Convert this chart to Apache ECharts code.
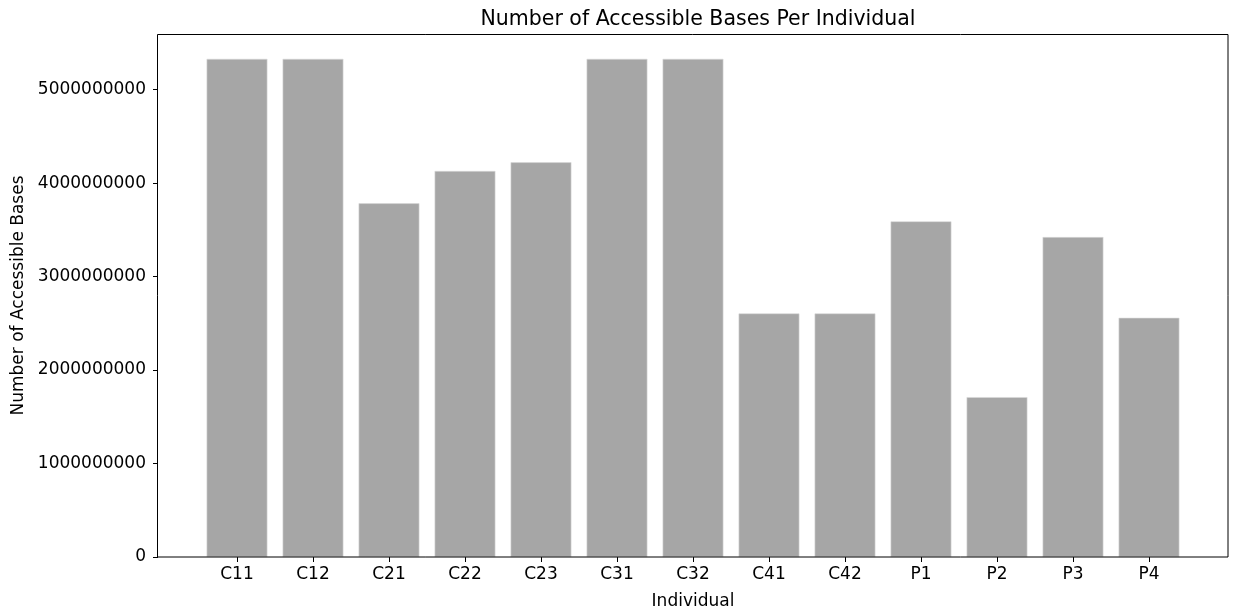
<!DOCTYPE html>
<html>
<head>
<meta charset="utf-8">
<script src="https://cdn.jsdelivr.net/npm/echarts@6/dist/echarts.min.js"></script>
<style>html,body{margin:0;padding:0;background:#fff;}#c{width:1233px;height:613px;}</style>
</head>
<body>
<div id="c"></div>
<script>
const categories = ['C11','C12','C21','C22','C23','C31','C32','C41','C42','P1','P2','P3','P4'];
const values = [5329000000, 5329000000, 3784000000, 4130000000, 4223000000, 5329000000, 5329000000, 2606000000, 2606000000, 3591000000, 1710000000, 3423000000, 2559000000];
const yTicks = [0, 1000000000, 2000000000, 3000000000, 4000000000, 5000000000];

const FONT = 'DejaVu Sans';
const chart = echarts.init(document.getElementById('c'), null, {renderer: 'canvas'});
const yMax = Math.max(...values) * 1.05;

chart.setOption({
  animation: false,
  backgroundColor: '#fff',
  title: {
    text: 'Number of Accessible Bases Per Individual',
    left: 693, top: 4, textAlign: 'center',
    textStyle: {fontFamily: FONT, fontSize: 20.5, fontWeight: 'normal', color: '#000'}
  },
  grid: {left: 199, right: 46, top: 34, bottom: 56, containLabel: false, outerBoundsMode: 'none'},
  xAxis: {
    type: 'category',
    data: categories,
    boundaryGap: true,
    axisLine: {show: false},
    axisTick: {show: true, alignWithLabel: true, length: 5, lineStyle: {color: '#000', width: 1}},
    axisLabel: {fontFamily: FONT, fontSize: 17, color: '#000', margin: 9},
    name: 'Individual',
    nameLocation: 'middle',
    nameGap: 36,
    nameTextStyle: {fontFamily: FONT, fontSize: 17, color: '#000'},
    splitLine: {show: false}
  },
  yAxis: {
    type: 'value',
    min: 0, max: yMax,
    offset: 41,
    axisLine: {show: false},
    axisTick: {show: true, length: 5, customValues: yTicks, lineStyle: {color: '#000', width: 1}},
    axisLabel: {
      fontFamily: FONT, fontSize: 17, color: '#000', margin: 12,
      customValues: yTicks,
      formatter: v => String(v)
    },
    splitLine: {show: false},
    name: 'Number of Accessible Bases',
    nameLocation: 'middle',
    nameGap: 131,
    nameTextStyle: {fontFamily: FONT, fontSize: 17, color: '#000'}
  },
  series: [{
    type: 'bar',
    data: values,
    barWidth: '80%',
    itemStyle: {color: '#a6a6a6', borderColor: '#d9d9d9', borderWidth: 0.6}
  }],
  graphic: [{
    type: 'rect',
    shape: {x: 157.5, y: 34.5, width: 1070.5, height: 522.5},
    style: {fill: null, stroke: '#000', lineWidth: 1},
    z: 100, silent: true
  }]
});
</script>
</body>
</html>
